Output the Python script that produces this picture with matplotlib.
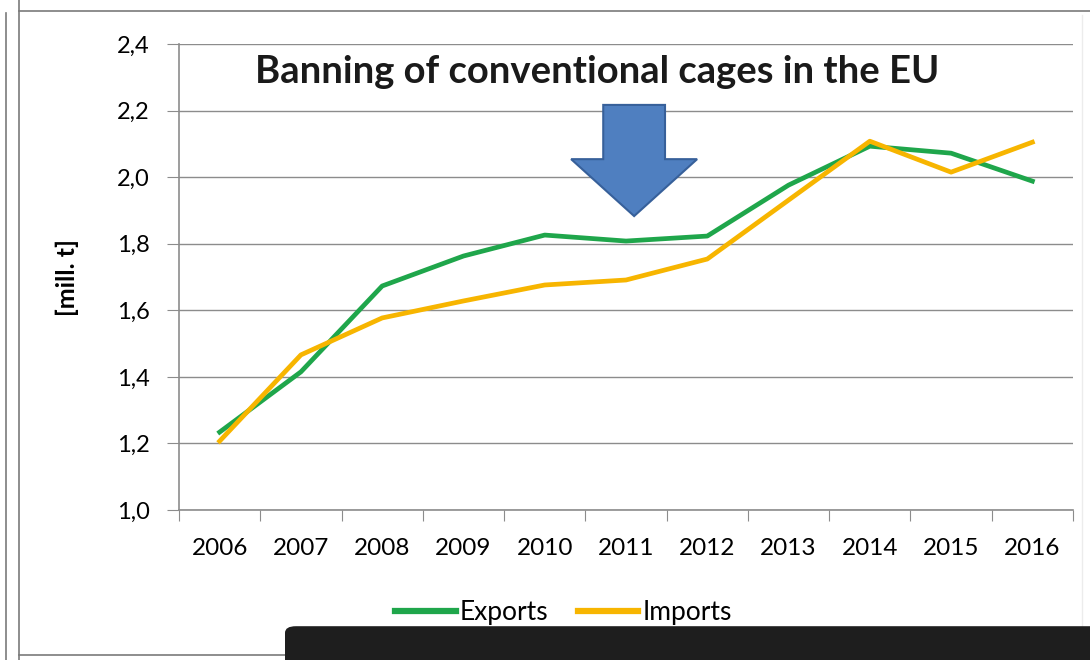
import matplotlib.pyplot as plt
import numpy as np
from matplotlib.patches import Polygon, FancyBboxPatch
from matplotlib.lines import Line2D

plt.rcParams['font.family'] = ['Lato', 'DejaVu Sans']

years = ['2006', '2007', '2008', '2009', '2010', '2011',
         '2012', '2013', '2014', '2015', '2016']
exports = [1.234, 1.415, 1.673, 1.763, 1.826, 1.808, 1.823, 1.976, 2.093, 2.072, 1.988]
imports = [1.207, 1.466, 1.577, 1.628, 1.676, 1.691, 1.754, 1.931, 2.108, 2.015, 2.105]
y_ticks = [1.0, 1.2, 1.4, 1.6, 1.8, 2.0, 2.2, 2.4]

fig = plt.figure(figsize=(10.9, 6.6), dpi=100)
ax = fig.add_axes([179/1090, 150/660, 894/1090, 466/660])

x = np.arange(len(years))
ax.plot(x, exports, color='#1fa64b', lw=3.4, label='Exports', zorder=3)
ax.plot(x, imports, color='#f7b500', lw=3.4, label='Imports', zorder=3)

ax.set_xlim(-0.5, len(years) - 0.5)
ax.set_ylim(1.0, 2.4)
ax.set_yticks(y_ticks)
ax.set_yticklabels([f'{v:.1f}'.replace('.', ',') for v in y_ticks], fontsize=17)
ax.yaxis.grid(True, color='#8c8c8c', lw=1)
ax.set_axisbelow(True)

# ticks between categories, labels in the middle
ax.set_xticks(np.arange(-0.5, len(years)), labels=[])
ax.set_xticks(x, labels=years, minor=True, fontsize=17.5)
ax.tick_params(axis='x', which='major', length=8, color='#8c8c8c', direction='out')
ax.tick_params(axis='x', which='minor', length=0, pad=20)
ax.tick_params(axis='y', length=9, color='#8c8c8c', pad=12)

for s in ['top', 'right']:
    ax.spines[s].set_visible(False)
for s in ['left', 'bottom']:
    ax.spines[s].set_color('#8c8c8c')
    ax.spines[s].set_linewidth(1.2)

ax.set_ylabel('[mill. t]', fontsize=18, fontweight='bold', labelpad=27)

ax.text(0.468, 0.94, 'Banning of conventional cages in the EU', transform=ax.transAxes,
        ha='center', va='center', fontsize=27.5, fontweight='bold', color='#1a1a1a')

# block arrow pointing at 2011
cx = 5.1
arrow = Polygon([[cx - 0.38, 2.217], [cx + 0.38, 2.217], [cx + 0.38, 2.054],
                 [cx + 0.775, 2.054], [cx, 1.883], [cx - 0.775, 2.054],
                 [cx - 0.38, 2.054]],
                closed=True, facecolor='#4f7fc0', edgecolor='#37609a', lw=1.5, zorder=4)
ax.add_patch(arrow)

leg = ax.legend(loc='center', bbox_to_anchor=(0.43, -0.22), ncol=2, frameon=False,
                fontsize=19, handlelength=2.3, handletextpad=0.15, columnspacing=1.1,
                borderpad=0)
for h in leg.get_lines():
    h.set_linewidth(4.5)

# surrounding frame lines from the slide
gray = '#7a7a7a'
fig.add_artist(Line2D([6/1090, 6/1090], [0, 647/660], color=gray, lw=1.2))
fig.add_artist(Line2D([19/1090, 19/1090], [0, 1], color=gray, lw=1.2))
fig.add_artist(Line2D([19/1090, 1], [649/660, 649/660], color=gray, lw=1.2))
fig.add_artist(Line2D([19/1090, 290/1090], [5/660, 5/660], color=gray, lw=1.2))
fig.add_artist(Line2D([1082/1090, 1082/1090], [30/660, 645/660], color='#ececec', lw=1))

# dark bar at the bottom
bar = FancyBboxPatch((285/1090, -0.02), 0.8, 47/660,
                     boxstyle='round,pad=0,rounding_size=0.01',
                     transform=fig.transFigure, facecolor='#1e1e1e', edgecolor='none',
                     zorder=5)
fig.add_artist(bar)

fig.savefig('out.png', dpi=100)
